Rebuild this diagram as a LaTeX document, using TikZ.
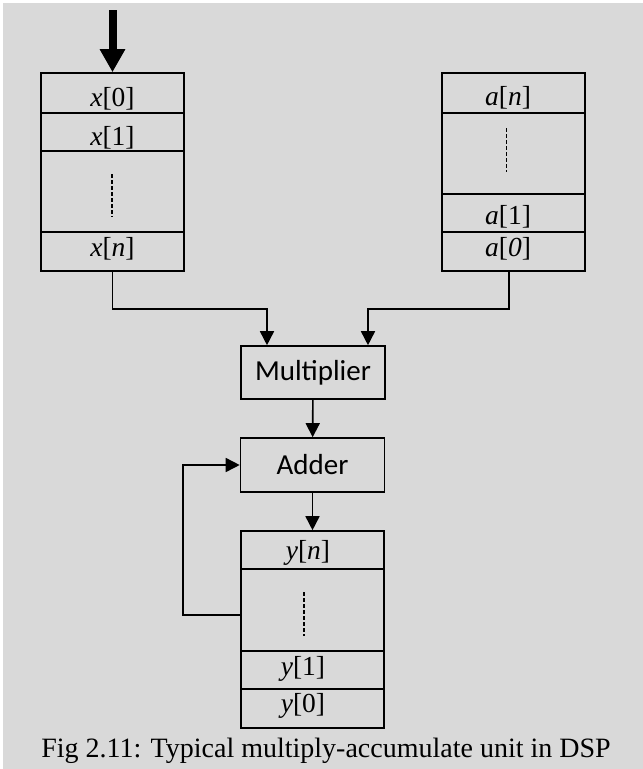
\documentclass[tikz,border=0pt]{standalone}
\usepackage{fontspec}
\setmainfont{Liberation Serif}
\newfontfamily\blockfont{Carlito}
\usetikzlibrary{arrows.meta,positioning}
\definecolor{bggray}{RGB}{217,217,217}
\tikzstyle{stack}=[draw,line width=1.6pt,minimum width=143pt,inner sep=0pt]
\tikzstyle{cell}=[line width=1.6pt]
\tikzstyle{entry}=[inner sep=0pt,font=\fontsize{27.5}{32}\selectfont]
\tikzstyle{block}=[draw,line width=1.6pt,minimum width=144pt,minimum height=53pt,inner sep=0pt,font=\blockfont\fontsize{29}{34}\selectfont]
\tikzstyle{wire}=[line width=1.6pt]
\tikzstyle{conn}=[wire,-{Triangle[length=14pt,width=14pt]}]
\tikzstyle{dots}=[line width=1.5pt,dash pattern=on 4pt off 2pt]
\tikzstyle{bigarrow}=[line width=8pt,-{Triangle[length=23pt,width=24pt]}]

\begin{document}
\begin{tikzpicture}[x=1pt,y=-1pt]
	\useasboundingbox (0,0) rectangle (643,769);
	\fill[bggray] (3,3) rectangle (643,769);

	% input samples
	\node [stack,minimum height=198pt] (xbuf) at (112.5,172) {};
	\foreach \yy in {113,151,232}
		\draw [cell] (41,\yy) -- (184,\yy);
	\node [entry] (x0) at (112.5,98.5) {\textit{x}[0]};
	\node [entry] (x1) at (112.5,138) {\textit{x}[1]};
	\node [entry] (xn) at (112.5,248.5) {\textit{x}[\textit{n}]};
	\draw [dots] (112,174) -- (112,217);
	\coordinate (in) at (112.5,10);
	\draw [bigarrow] (in) -- (xbuf.north);

	% coefficients
	\node [stack,minimum height=198pt] (abuf) at (513.5,172) {};
	\foreach \yy in {113,194,232}
		\draw [cell] (442,\yy) -- (585,\yy);
	\node [entry] (an) at (508,97.5) {\textit{a}[\textit{n}]};
	\node [entry] (a1) at (508,216.5) {\textit{a}[1]};
	\node [entry] (a0) at (508,248.5) {\textit{a}[\textit{0}]};
	\draw [dots] (506.5,128) -- (506.5,172);

	% MAC
	\node [block] (mul) at (313,372.5) {Multiplier};
	\node [block,minimum height=54pt] (add) at (312.5,465) {Adder};

	% outputs
	\node [stack,minimum height=197pt] (ybuf) at (312.5,629.5) {};
	\foreach \yy in {569,651,689}
		\draw [cell] (241,\yy) -- (384,\yy);
	\node [entry] (yn) at (308,553) {\textit{y}[\textit{n}]};
	\node [entry] (y1) at (303,669) {\textit{y}[1]};
	\node [entry] (y0) at (303,706) {\textit{y}[0]};
	\draw [dots] (304,592) -- (304,636);

	\draw [conn] (xbuf.south) -- ++(0,37) -| ([xshift=-46pt]mul.north);
	\draw [conn] ([xshift=-4.5pt]abuf.south) -- ++(0,37) -| ([xshift=55pt]mul.north);
	\draw [conn] (mul) -- (add);
	\draw [conn] (add) -- (ybuf);
	\draw [conn] ([yshift=14.5pt]ybuf.west) -- ++(-57,0) |- (add.west);

	\node [inner sep=0pt,font=\fontsize{28}{33}\selectfont,anchor=base] (caption) at (326,757) {Fig 2.11: Typical multiply-accumulate unit in DSP};
\end{tikzpicture}
\end{document}
